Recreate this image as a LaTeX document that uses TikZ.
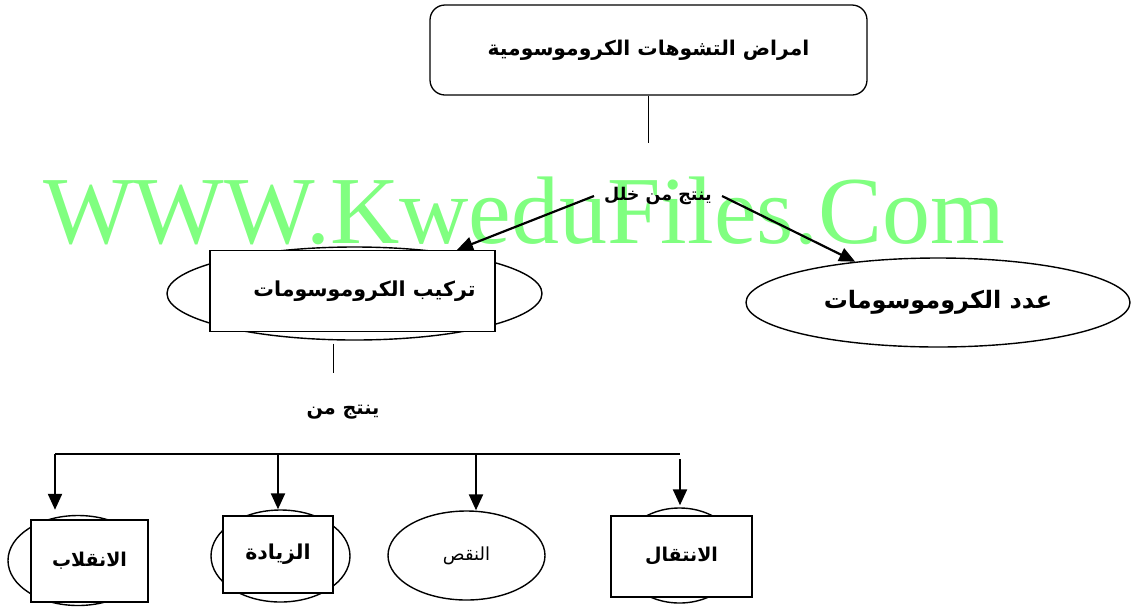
\documentclass[tikz,border=0pt]{standalone}
\usepackage{fontspec}
\usetikzlibrary{shapes.geometric,arrows.meta}
\newfontfamily\arabicfont[Script=Arabic]{DejaVu Sans}
\newfontfamily\markfont{Liberation Serif}
\TeXXeTstate=1
\definecolor{markgreen}{RGB}{128,255,128}

\begin{document}
\begin{tikzpicture}[x=1pt,y=-1pt,
		box/.style={draw,fill=white,line width=1.3pt,inner sep=0pt,font=\arabicfont\bfseries\fontsize{19}{22}\selectfont},
		oval/.style={draw,ellipse,fill=white,line width=1.4pt,inner sep=0pt,font=\arabicfont\bfseries\fontsize{24}{28}\selectfont},
		link/.style={line width=1.6pt},
		arr/.style={line width=2.2pt,-{Triangle[length=16pt,width=14pt]}}]
			\useasboundingbox (0,0) rectangle (1133,606);
			\node[anchor=base west,inner sep=0pt,text=markgreen,font=\markfont\fontsize{96}{100}\selectfont] (mark) at (43,243) {WWW.KweduFiles.Com};
			\node[box,rounded corners=15pt,minimum width=437pt,minimum height=90pt,font=\arabicfont\bfseries\fontsize{20.3}{24}\selectfont] (top) at (648.5,50) {\beginR امراض التشوهات الكروموسومية\endR};
			\node[inner xsep=10pt,font=\arabicfont\bfseries\fontsize{17.5}{20}\selectfont] (cause) at (658,196) {\beginR ينتج من خلل\endR};
			\node[oval,minimum width=375pt,minimum height=93pt] (structell) at (354.5,293.5) {};
			\node[box,minimum width=285pt,minimum height=81pt,font=\arabicfont\bfseries\fontsize{20.6}{24}\selectfont] (structbox) at (352.5,291) {\hspace{24pt}\beginR تركيب الكروموسومات\endR};
			\node[oval,minimum width=384pt,minimum height=89pt] (numell) at (938,302.5) {\beginR عدد الكروموسومات\endR};
			\draw[link] (top.south) -- ++(0,47);
			\draw[arr] (cause.west) -- (structbox);
			\draw[arr] (cause.east) -- (numell);
			\draw[link] ([xshift=-21pt,yshift=-3pt]structell.south) -- ++(0,29);
			\node[font=\arabicfont\bfseries\fontsize{19.3}{22}\selectfont] (result) at (343,412) {\beginR ينتج من\endR};
			\node[oval,minimum width=140pt,minimum height=90pt] (invell) at (78,560.5) {};
			\node[box,minimum width=117pt,minimum height=82pt] (invbox) at (89.5,561) {\beginR الانقلاب\endR};
			\node[oval,minimum width=139pt,minimum height=92pt] (incell) at (280.5,556) {};
			\node[box,minimum width=110pt,minimum height=77pt,font=\arabicfont\bfseries\fontsize{20.5}{24}\selectfont] (incbox) at (278,554.5) {\beginR الزيادة\endR};
			\node[oval,minimum width=157pt,minimum height=89pt,font=\arabicfont\fontsize{18}{21}\selectfont] (decell) at (466.5,555.5) {\beginR النقص\endR};
			\node[oval,minimum width=120pt,minimum height=95pt] (trell) at (679.5,555.5) {};
			\node[box,minimum width=141pt,minimum height=81pt] (trbox) at (681.5,556.5) {\beginR الانتقال\endR};
			\coordinate (busL) at (55,454);
			\coordinate (bus3) at (476,454);
			\coordinate (busR) at (680,454);
			\draw[link] (busL) -- (busR);
			\draw[arr,shorten >=5pt] (busL) -- (busL |- invell.north);
			\draw[arr] (incbox.north |- busL) -- (incbox.north |- incell.north);
			\draw[arr] (bus3) -- (bus3 |- decell.north);
			\draw[arr,shorten >=2pt] ([yshift=-5pt]busR) -- (busR |- trell.north);
		\end{tikzpicture}
\end{document}
